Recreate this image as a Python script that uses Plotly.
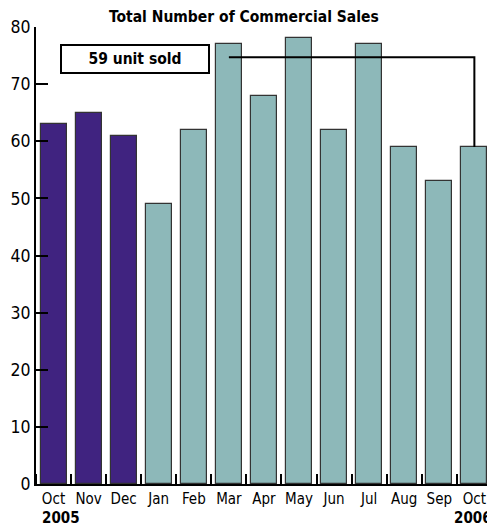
import plotly.graph_objects as go

months = ["Oct", "Nov", "Dec", "Jan", "Feb", "Mar", "Apr", "May", "Jun", "Jul", "Aug", "Sep", "Oct"]
sales = [63, 65, 61, 49, 62, 77, 68, 78, 62, 77, 59, 53, 59]
year_flag = [2005, 2005, 2005, 2006, 2006, 2006, 2006, 2006, 2006, 2006, 2006, 2006, 2006]
bracket_from = 5      # Mar 2006
bracket_to = 12       # Oct 2006
bracket_level = 74.7
callout_text = "59 unit sold"
title_text = "Total Number of Commercial Sales"

PURPLE = "#402380"
TEAL = "#8db8b9"
FONT = "DejaVu Sans Condensed, Liberation Sans Narrow, sans-serif"

idx = list(range(len(months)))
colors = [PURPLE if y == 2005 else TEAL for y in year_flag]

fig = go.Figure()
# bracket line (behind bars)
fig.add_trace(go.Scatter(
    x=[bracket_from, bracket_to, bracket_to],
    y=[bracket_level, bracket_level, sales[bracket_to]],
    mode="lines", line=dict(color="black", width=2),
    hoverinfo="skip", showlegend=False,
))
fig.add_trace(go.Bar(
    x=idx, y=sales, width=0.74,
    marker=dict(color=colors, line=dict(color="#333333", width=1.2)),
    showlegend=False,
))

fig.update_layout(
    width=487, height=529,
    margin=dict(l=36, r=0, t=27, b=45, autoexpand=False),
    plot_bgcolor="white", paper_bgcolor="white",
    font=dict(family=FONT, color="black", size=15),
    bargap=0,
    annotations=[
        dict(text="<b>" + title_text + "</b>", xref="paper", yref="paper",
             x=0.461, xanchor="center", y=1.0, yanchor="middle", yshift=10,
             showarrow=False, font=dict(size=15.5)),
        dict(text="<b>" + callout_text + "</b>", xref="paper", yref="paper",
             x=0.2204, xanchor="center", y=0.931, yanchor="middle", showarrow=False,
             font=dict(size=15.5),
             bordercolor="black", borderwidth=2, borderpad=0,
             width=146, height=26, bgcolor="white"),
        dict(text="<b>2005</b>", xref="paper", yref="paper", x=0.0, xanchor="left",
             xshift=4, y=0, yshift=-34, yanchor="middle", showarrow=False, font=dict(size=15)),
        dict(text="<b>2006</b>", xref="paper", yref="paper", x=1.0, xanchor="left",
             xshift=-35, y=0, yshift=-34, yanchor="middle", showarrow=False, font=dict(size=15)),
    ],
)
fig.update_xaxes(
    range=[-0.5, 12.36], tickmode="array", tickvals=idx, ticktext=months,
    ticks="", showline=True, linecolor="black", linewidth=2, automargin=False,
    showgrid=False, zeroline=False, tickfont=dict(size=15),
    minor=dict(tick0=-0.5, dtick=1, ticks="inside", ticklen=10, tickwidth=2,
               tickcolor="black", showgrid=False),
)
fig.update_yaxes(
    range=[0, 80], dtick=10, ticks="inside", ticklen=12, tickwidth=2,
    tickcolor="black", showline=True, linecolor="black", linewidth=2, automargin=False,
    showgrid=False, zeroline=False, tickfont=dict(size=17.5),
)

fig.write_html("out.html", config={"displayModeBar": False},
               post_script="document.body.style.margin='0';")
